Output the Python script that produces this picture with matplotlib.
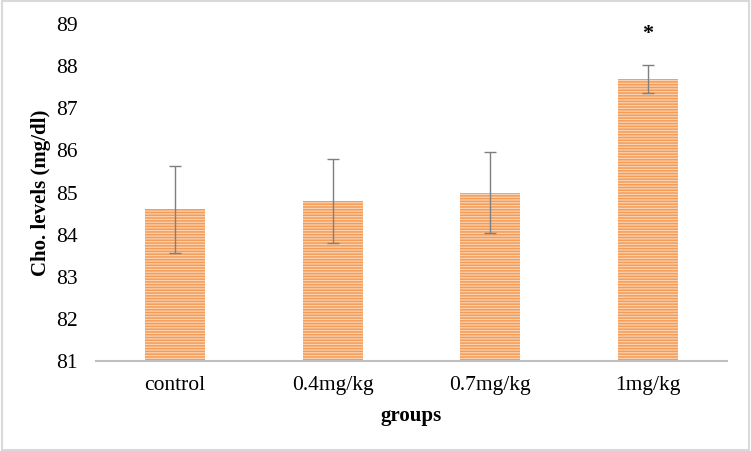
import matplotlib.pyplot as plt
from matplotlib.patches import Rectangle

plt.rcParams['font.family'] = ['Liberation Serif', 'DejaVu Serif']
plt.rcParams['hatch.linewidth'] = 1.1

groups = ["control", "0.4mg/kg", "0.7mg/kg", "1mg/kg"]
means = [84.6, 84.8, 85.0, 87.7]
errors = [1.04, 1.0, 0.97, 0.33]
marks = ["", "", "", "*"]

fig = plt.figure(figsize=(7.51, 4.51), dpi=100)
ax = fig.add_axes([96 / 751, 1 - 361 / 451, 631 / 751, 337 / 451])

x = range(len(groups))
bars = ax.bar(x, [m - 81 for m in means], bottom=81, width=0.38,
              color="#FAD2B2", edgecolor="#F49C55", hatch="------", linewidth=0)
ax.errorbar(x, means, yerr=errors, fmt="none", ecolor="#7F7F7F",
            elinewidth=1.0, capsize=4, capthick=1.0)
for i, s in enumerate(marks):
    if s:
        ax.text(i, 88.76, s, ha="center", va="center", fontsize=16, fontweight="bold")

ax.set_ylim(81, 89)
ax.set_xlim(-0.5, 3.5)
ax.set_yticks(range(81, 90))
ax.set_xticks(list(x))
ax.set_xticklabels(groups)
ax.tick_params(length=0, labelsize=15.5, colors="#000000")
ax.tick_params(axis="y", pad=13)
ax.tick_params(axis="x", pad=11)
for side in ["top", "right", "left"]:
    ax.spines[side].set_visible(False)
ax.spines["bottom"].set_color("#BFBFBF")
ax.spines["bottom"].set_linewidth(1.5)

ax.set_xlabel("groups", fontsize=15, fontweight="bold", labelpad=8)
ax.set_ylabel("Cho. levels (mg/dl)", fontsize=15, fontweight="bold", labelpad=4)

fig.patches.append(Rectangle((0.002, 0.003), 0.996, 0.994, transform=fig.transFigure,
                             fill=False, edgecolor="#D9D9D9", linewidth=1.5))

plt.savefig("out.png", dpi=100)
